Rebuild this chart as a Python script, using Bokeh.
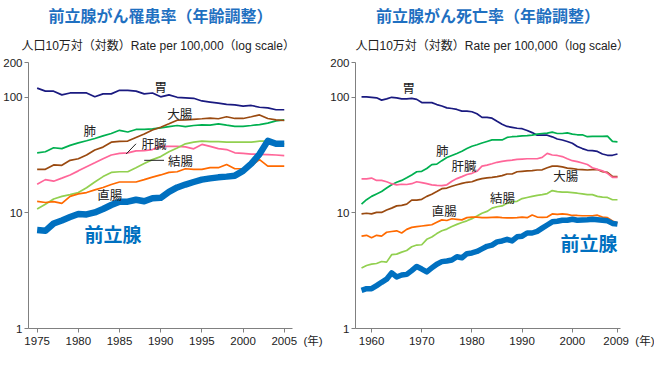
from bokeh.plotting import figure
from bokeh.layouts import row
from bokeh.models import Range1d, FixedTicker, NumeralTickFormatter, Label, Title
from bokeh.embed import file_html
from bokeh.resources import INLINE

# ---------------- data ----------------
inc_years = list(range(1975, 2006))
inc_stomach = [120, 113, 113, 105, 109, 109, 109, 101, 107, 107, 115, 115, 113, 107, 109, 101,
               105, 100, 99, 98, 93, 91, 89, 87, 86, 84, 85, 82, 81, 78, 78]
inc_lung = [33.1, 33.8, 36.6, 36, 38.4, 40.3, 42.1, 44, 46.4, 48.6, 51.8, 50.1, 52.7, 52.7, 53.4, 54.4,
            55.8, 57, 55.8, 57, 57.7, 57.4, 58.9, 57.4, 56.1, 56.1, 57, 58.1, 59.8, 62.6, 63.7]
inc_colorectal = [23.8, 23.8, 26, 25.8, 28.5, 29.4, 31.7, 35, 37.1, 40.9, 41.5, 41.8, 44.9, 48.1, 52.2, 55.1,
                  59, 63.4, 63.7, 64.5, 65.2, 66, 65.2, 67.9, 65.6, 65.6, 67.9, 70.4, 65.6, 63.7, 63]
inc_liver = [17.7, 19.4, 18.8, 20, 21.3, 23.1, 25.1, 27.1, 29.4, 31.7, 32.7, 33.1, 34.4, 34.6, 35.3, 37.6,
             37.6, 37.6, 37.2, 35.8, 39.1, 37.6, 36, 35.3, 33.1, 32.7, 32.3, 32.1, 31.9, 31.7, 31.3]
inc_colon = [10.8, 11.9, 13.2, 13.9, 14.4, 15, 16.5, 18.5, 20.6, 22.4, 22.7, 22.7, 24.6, 26.7, 28.9, 30.7,
             33.8, 36.5, 39.6, 40.9, 41.7, 41.4, 41.4, 40.9, 40.9, 40.9, 40.9, 41.7, 41.7, 39.5, 39.5]
inc_rectum = [12.6, 12.3, 12.5, 12.1, 13.9, 14.6, 15, 15.8, 16.6, 17.6, 18.5, 18.5, 18.5, 19.4, 20.4, 21.3,
              22.4, 22.7, 24.1, 23.8, 23.8, 24.6, 24.6, 26.2, 24.1, 24.1, 25.7, 28.9, 25.4, 25.4, 25.4]
inc_prostate = [7.1, 7.0, 8.1, 8.6, 9.2, 9.8, 9.7, 10.1, 10.8, 11.7, 12.5, 12.5, 13.0, 12.6, 13.4, 13.5,
                15.2, 16.6, 17.6, 18.5, 19.4, 19.9, 20.3, 20.6, 21.0, 23.1, 26.7, 32.3, 42.0, 39.6, 39.6]

mort_years = list(range(1958, 2010))
mort_stomach = [101, 101, 100, 99, 94.5, 97, 100, 99, 97, 97, 98, 96, 90, 90, 90, 86.5, 84, 81, 80, 78.5,
                76, 76, 75, 72, 67, 67, 66, 62, 58.5, 56, 55, 54, 53.5, 51.6, 49.5, 47, 47, 47, 45.5, 43.6,
                42.7, 41.5, 40, 37.6, 36, 34.8, 34.6, 34, 32.3, 31.5, 31.5, 32.3]
mort_lung = [11.9, 13, 13.9, 14.6, 15.3, 16.4, 17.5, 18.4, 19.1, 20.1, 21.3, 22.7, 22.9, 24.2, 26.2, 26.4,
             28.3, 30.1, 31.4, 32.7, 34.1, 36, 37.7, 38.9, 40.2, 41.5, 42.8, 42.8, 42.8, 45, 45.6, 45.9,
             46.4, 46.6, 47, 48, 48.6, 49, 50, 48.6, 48.6, 49.2, 48, 47.4, 47.4, 45.6, 45.9, 45.9, 46,
             46.2, 41.5, 41.2]
mort_liver = [19.7, 19.7, 20, 19.1, 19.1, 18.6, 17.9, 17.5, 17.7, 17.6, 17.9, 18.6, 18.3, 17.9, 17.5, 17.3,
              17.2, 17.5, 18.8, 19.8, 20.6, 21.5, 22, 22.9, 25.4, 25.9, 26.6, 27.4, 27.9, 28.3, 28.6, 29,
              29.2, 29.4, 29.4, 29.4, 30.2, 32.7, 31.7, 31.4, 30.7, 29.4, 28.3, 27.8, 27, 26.2, 24.6, 23.8,
              23.1, 22, 20.3, 20.3]
mort_colorectal = [9.8, 9.93, 9.8, 10.1, 10.1, 10.6, 11.0, 11.5, 11.6, 11.9, 12.9, 12.9, 13.1, 13.9, 14.5,
                   15.3, 16.2, 16.4, 17, 17.5, 18, 18.4, 18.6, 19.3, 19.8, 20.1, 20.3, 20.6, 21, 21.7, 21.7,
                   22.7, 22.9, 23.1, 23.2, 23.5, 23.6, 24.6, 25.4, 25.4, 25, 24.4, 24.2, 23.8, 23.7, 23.5,
                   23.7, 23.7, 22.7, 22.4, 20.7, 20.6]
mort_rectum = [6.3, 6.4, 6.1, 6.4, 6.3, 6.8, 6.9, 7.0, 6.7, 7.2, 7.5, 7.6, 7.7, 7.8, 7.9, 8.3, 8.7, 8.6, 8.9,
               8.8, 8.7, 9.1, 9.2, 9.2, 9.1, 9.1, 9.15, 9.2, 9.1, 9.05, 9.05, 9.1, 9.2, 9.1, 9.6, 9.2, 9.15,
               9.2, 9.8, 9.7, 9.8, 9.7, 9.5, 9.5, 9.45, 9.45, 9.45, 9.55, 9.2, 9.1, 8.5, 8.2]
mort_colon = [3.34, 3.51, 3.60, 3.65, 3.8, 3.75, 4.35, 4.4, 4.58, 4.73, 5.1, 5.27, 5.3, 5.91, 6.18, 6.62,
              7.01, 7.24, 7.62, 7.96, 8.27, 8.54, 8.92, 9.39, 9.94, 10.3, 11.0, 11.3, 11.5, 12.1, 12.5, 12.6,
              13.3, 13.6, 13.9, 14.2, 14.4, 14.7, 15.6, 15.3, 15.1, 15.1, 15.0, 14.8, 14.6, 14.4, 14.4, 13.9,
              13.7, 13.6, 13.0, 13.0]
mort_prostate = [2.14, 2.21, 2.21, 2.35, 2.51, 2.67, 3.03, 2.79, 2.90, 2.94, 3.17, 3.44, 3.27, 3.09, 3.34,
                 3.60, 3.79, 3.84, 3.91, 4.17, 4.09, 4.44, 4.50, 4.64, 4.88, 5.14, 5.27, 5.61, 5.72, 5.91,
                 5.72, 6.21, 6.29, 6.70, 6.70, 6.92, 7.38, 7.86, 8.37, 8.48, 8.64, 8.64, 8.81, 8.64, 8.70,
                 8.74, 8.81, 8.74, 8.64, 8.54, 8.11, 8.0]

y_ticks = [1, 10, 100, 200]
inc_x_ticks = [1975, 1980, 1985, 1990, 1995, 2000, 2005]
mort_x_ticks = [1960, 1970, 1980, 1990, 2000, 2009]
year_unit = "(年)"

# organ name labels: (text, year, value)
inc_labels = [("胃", 1990.0, 123), ("大腸", 1992.3, 72.4), ("肺", 1981.4, 51.4),
              ("肝臓", 1989.2, 40.1), ("結腸", 1992.4, 28.5), ("直腸", 1983.8, 14.4)]
mort_labels = [("胃", 1967.4, 121), ("肺", 1974.1, 34.5), ("肝臓", 1978.4, 25.9),
               ("大腸", 1998.7, 21.0), ("結腸", 1986.1, 13.6), ("直腸", 1974.5, 10.4)]
inc_leaders = [([1985.8, 1987.0], [32.3, 39.6]), ([1988.0, 1990.4], [28.5, 28.5])]

# ---------------- style ----------------
C_STOMACH = "#1a1a80"
C_LUNG = "#00b050"
C_CR = "#9a4a10"
C_LIVER = "#ff6699"
C_COLON = "#92d050"
C_RECTUM = "#ff6a00"
C_PROSTATE = "#0070c0"
TITLE_BLUE = "#1f70c1"
AXIS_GRAY = "#808080"
JP = "Noto Sans CJK JP"
MIX = "Liberation Sans, Noto Sans CJK JP"
NB = "\u00a0"


def make_panel(title, years, series, prostate, x_start, x_end, x_ticks, labels,
               prostate_label, prostate_w, border_left, border_right, sub_offset):
    p = figure(width=327, height=349, x_range=Range1d(x_start, x_end), y_range=Range1d(1, 200),
               y_axis_type="log", output_backend="svg", toolbar_location=None,
               min_border_left=border_left, min_border_right=border_right,
               min_border_top=54, min_border_bottom=0)
    p.title.visible = False
    p.outline_line_color = None
    p.grid.visible = False
    p.background_fill_color = "white"
    p.border_fill_color = "white"

    sub = Title(text="人口10万対（対数）Rate per 100,000（log scale）", align="left",
                text_font_size="12px", text_font=MIX, text_font_style="normal",
                text_color="#222222", standoff=19, offset=sub_offset)
    p.add_layout(sub, "above")
    main = Title(text=title, align="center", text_font_size="16px", text_font=JP,
                 text_font_style="bold", text_color=TITLE_BLUE, standoff=1)
    p.add_layout(main, "above")

    for vals, color in series:
        p.line(years, vals, line_color=color, line_width=1.7)
    p.line(years, prostate, line_color=C_PROSTATE, line_width=prostate_w, line_join="round")

    for ax in (p.xaxis[0], p.yaxis[0]):
        ax.axis_line_color = AXIS_GRAY
        ax.major_tick_line_color = AXIS_GRAY
        ax.major_tick_out = 4
        ax.major_tick_in = 0
        ax.minor_tick_line_color = None
        ax.major_label_text_font = MIX
        ax.major_label_text_font_size = "11.5px"
        ax.major_label_text_color = "#222222"
        ax.major_label_standoff = 2
    p.xaxis.ticker = FixedTicker(ticks=x_ticks, minor_ticks=[])
    last = x_ticks[-1]
    p.xaxis.major_label_overrides = {last: NB * 8 + f"{last}{NB}{NB}{year_unit}"}
    p.yaxis.ticker = FixedTicker(ticks=y_ticks, minor_ticks=[])
    p.yaxis.formatter = NumeralTickFormatter(format="0")

    for txt, lx, ly in labels:
        p.add_layout(Label(x=lx, y=ly, text=txt, text_align="center", text_baseline="middle",
                           text_font=JP, text_font_size="12.5px", text_color="#222222"))
    ptxt, px, py = prostate_label
    p.add_layout(Label(x=px, y=py, text=ptxt, text_align="center", text_baseline="middle",
                       text_font=JP, text_font_size="19px", text_font_style="bold",
                       text_color=C_PROSTATE))
    return p


left = make_panel("前立腺がん罹患率（年齢調整）", inc_years,
                  [(inc_stomach, C_STOMACH), (inc_lung, C_LUNG), (inc_colorectal, C_CR),
                   (inc_liver, C_LIVER), (inc_colon, C_COLON), (inc_rectum, C_RECTUM)],
                  inc_prostate, 1973.95, 2006.0, inc_x_ticks, inc_labels,
                  ("前立腺", 1984.2, 6.7), 6.5, 20, 35, -7)
for lx, ly in inc_leaders:
    left.line(lx, ly, line_color="#222222", line_width=1)

right = make_panel("前立腺がん死亡率（年齢調整）", mort_years,
                   [(mort_stomach, C_STOMACH), (mort_lung, C_LUNG), (mort_colorectal, C_CR),
                    (mort_liver, C_LIVER), (mort_colon, C_COLON), (mort_rectum, C_RECTUM)],
                   mort_prostate, 1956.8, 2009.6, mort_x_ticks, mort_labels,
                   ("前立腺", 2003.3, 5.55), 5.5, 23, 34, 0)

layout = row(left, right)
open("out.html", "w").write(file_html(layout, INLINE))
